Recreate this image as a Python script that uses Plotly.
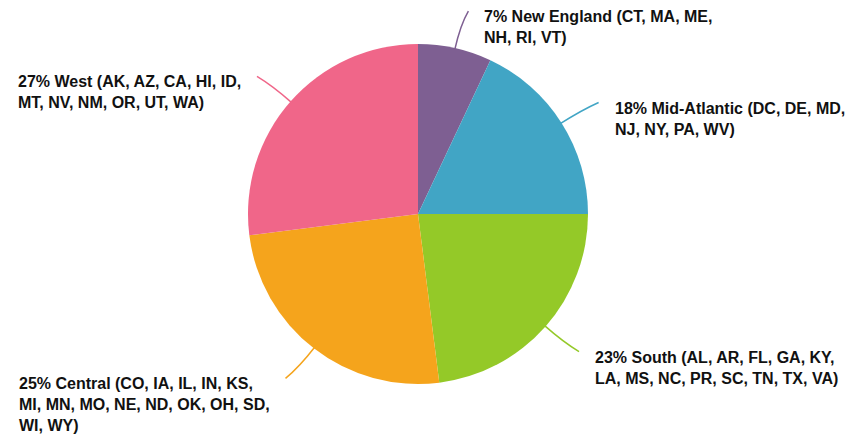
import math
import plotly.graph_objects as go

# ---- data ----
regions = ["New England", "Mid-Atlantic", "South", "Central", "West"]
values = [7, 18, 23, 25, 27]
states = [
    ["CT, MA, ME,", "NH, RI, VT)"],
    ["DC, DE, MD,", "NJ, NY, PA, WV)"],
    ["AL, AR, FL, GA, KY,", "LA, MS, NC, PR, SC, TN, TX, VA)"],
    ["CO, IA, IL, IN, KS,", "MI, MN, MO, NE, ND, OK, OH, SD,", "WI, WY)"],
    ["AK, AZ, CA, HI, ID,", "MT, NV, NM, OR, UT, WA)"],
]
colors = ["#7E5F92", "#41A5C5", "#94C928", "#F5A41C", "#F06689"]

# ---- layout constants ----
W, H = 849, 439
CX, CY, R = 418, 214, 170


def px(x):
    return x / W


def py(y):
    return 1 - y / H


fig = go.Figure(
    go.Pie(
        labels=regions,
        values=values,
        sort=False,
        direction="clockwise",
        rotation=0,
        marker=dict(colors=colors, line=dict(width=0)),
        textinfo="none",
        hoverinfo="label+percent",
        showlegend=False,
        domain=dict(x=[px(CX - R), px(CX + R)], y=[py(CY + R), py(CY - R)]),
    )
)

total = sum(values)
cum = 0
shapes = []
annotations = []
for name, v, st, col in zip(regions, values, states, colors):
    mid = math.radians((cum + v / 2) / total * 360)
    cum += v
    s, c = math.sin(mid), math.cos(mid)
    side = 1 if s >= 0 else -1
    x0, y0 = CX + (R - 2) * s, CY - (R - 2) * c
    xc, yc = CX + 194 * s, CY - 194 * c
    x1, y1 = CX + 208 * s + side * 5, CY - 208 * c
    shapes.append(dict(
        type="path", xref="paper", yref="paper",
        path=f"M {px(x0)},{py(y0)} Q {px(xc)},{py(yc)} {px(x1)},{py(y1)}",
        line=dict(color=col, width=1.5),
    ))
    pct = round(v / total * 100)
    lines = [f"{pct}% {name} ({st[0]}"] + st[1:]
    annotations.append(dict(
        xref="paper", yref="paper",
        x=px(x1 + side * 14), y=py(y1 - 5),
        xanchor="left" if side > 0 else "right", yanchor="top",
        align="left", showarrow=False,
        text="<br>".join(lines),
        font=dict(family="Liberation Sans, Arial, sans-serif", size=16,
                  color="#111111", weight="bold"),
    ))

fig.update_layout(
    width=W, height=H,
    margin=dict(l=0, r=0, t=0, b=0),
    paper_bgcolor="white", plot_bgcolor="white",
    shapes=shapes, annotations=annotations,
)
fig.write_html("out.html", config={"displayModeBar": False})

# remove the browser's default page margin so the figure fills the window
with open("out.html", encoding="utf-8") as f:
    html = f.read()
html = html.replace("<head>", "<head><style>body{margin:0;}</style>", 1)
with open("out.html", "w", encoding="utf-8") as f:
    f.write(html)
